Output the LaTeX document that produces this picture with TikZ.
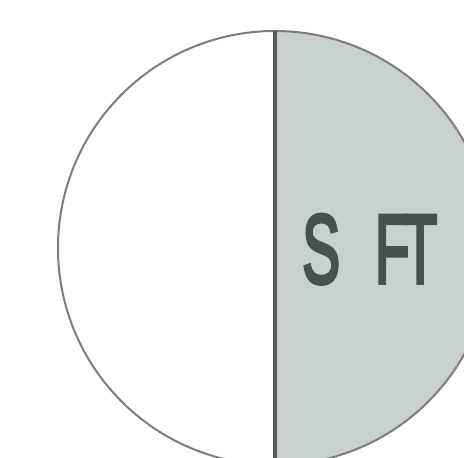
\documentclass[tikz,border=0pt]{standalone}
\usepackage{fontspec}
\setmainfont{Liberation Sans}[FakeBold=4]
\definecolor{rimgray}{HTML}{7C7E7D}
\definecolor{linegray}{HTML}{555B58}
\definecolor{halffill}{HTML}{C9D1CC}
\definecolor{txtgray}{HTML}{48524D}
\tikzset{
  rim/.style={draw=rimgray, line width=2pt},
  divider/.style={draw=linegray, line width=3.2pt},
  bigtext/.style={text=txtgray, font=\fontsize{98}{98}\selectfont, inner sep=0pt, anchor=base west}
}
\begin{document}
\begin{tikzpicture}[x=1pt,y=-1pt]
\useasboundingbox (0,0) rectangle (464,458);
\begin{scope}
  \clip (0,0) rectangle (464,458);
  \coordinate (c) at (275,248);
  \begin{scope}
    \clip (275,0) rectangle (470,470);
    \fill[halffill] (c) circle[radius=217];
  \end{scope}
  \draw[rim] (c) circle[radius=217];
  \coordinate (top) at (275,31);
  \coordinate (bot) at (275,470);
  \draw[divider] (top) -- (bot);
  \node[bigtext] (lbl) at (302,283) {\scalebox{0.58}[1]{S\hspace{60pt}F\kern-12pt T}};
\end{scope}
\end{tikzpicture}
\end{document}
